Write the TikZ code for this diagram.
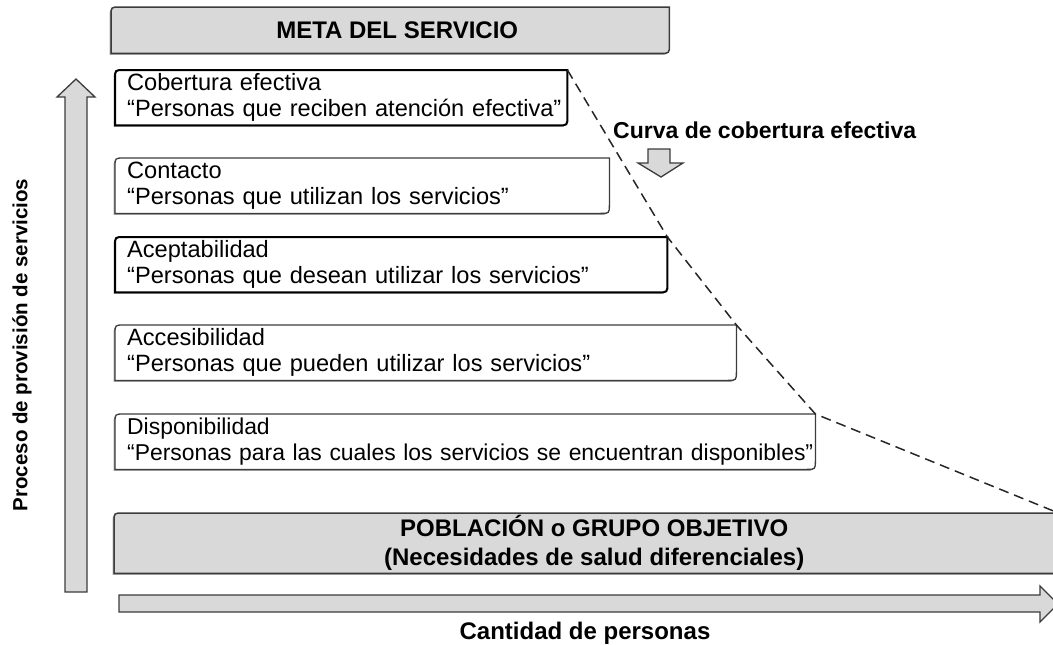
\documentclass[tikz,border=0pt]{standalone}
\usepackage{fontspec}
\setmainfont{Liberation Sans}
\usetikzlibrary{calc,backgrounds}
\definecolor{boxgray}{HTML}{D9D9D9}
\definecolor{edgegray}{HTML}{3C3C3C}
\newcommand{\roundpathoff}[3]{%
  \path[#2] ($(#1.south west)+#3$) -- ($(#1.north west)+(0,9)+#3$) .. controls ($(#1.north west)+#3$) .. ($(#1.north west)+(9,0)+#3$)
    -- ($(#1.north east)+#3$) -- ($(#1.south east)+(0,-9)+#3$) .. controls ($(#1.south east)+#3$) .. ($(#1.south east)+(-9,0)+#3$) -- cycle;}
\newcommand{\roundoutline}[2]{%
  \roundpathoff{#1}{boxshadow}{(-1.5,1.5)}%
  \roundpathoff{#1}{#2}{(0,0)}}
\tikzset{
  tbox/.style={anchor=north west, inner xsep=12pt, inner ysep=0pt, minimum height=55pt, align=left,
    font=\fontsize{23.6}{26}\selectfont},
  gbox/.style={anchor=north west, inner sep=0pt, align=center, font=\bfseries\fontsize{24}{29}\selectfont},
  boxshadow/.style={fill=black!35},
  thinedge/.style={fill=white, draw=edgegray, line width=1.3pt},
  thickedge/.style={fill=white, draw=black, line width=2pt},
  grayedge/.style={fill=boxgray, draw=edgegray, line width=1.5pt},
  bigarrow/.style={fill=boxgray, draw=edgegray, line width=1.3pt, line join=miter},
  dashline/.style={draw=black!85, line width=1.5pt, dash pattern=on 10pt off 6pt},
  boldlabel/.style={inner sep=0pt, font=\bfseries\fontsize{23}{26}\selectfont}
}
\begin{document}
\begin{tikzpicture}[x=1pt,y=-1pt]
\useasboundingbox (0,0) rectangle (1053,645);
% boxes
\node[gbox, minimum width=558pt, minimum height=46pt] (meta) at (111,7) {\hspace*{14pt}META DEL SERVICIO};
\node[tbox, text width=428pt] (cob) at (115,70) {\mbox{Cobertura efectiva}\\\mbox{“Personas que reciben atención efectiva”}};
\node[tbox, text width=470pt] (con) at (115,158) {\mbox{Contacto}\\\mbox{“Personas que utilizan los servicios”}};
\node[tbox, text width=528pt] (acep) at (115,237) {\mbox{Aceptabilidad}\\\mbox{“Personas que desean utilizar los servicios”}};
\node[tbox, text width=597pt] (acc) at (115,325) {\mbox{Accesibilidad}\\\mbox{“Personas que pueden utilizar los servicios”}};
\node[tbox, text width=676pt, font=\fontsize{22.9}{26}\selectfont] (disp) at (115,414) {\mbox{Disponibilidad}\\\mbox{“Personas para las cuales los servicios se encuentran disponibles”}};
\node[gbox, minimum width=944pt, minimum height=60pt] (pob) at (114,513) {\hspace*{16pt}POBLACIÓN o GRUPO OBJETIVO\\\hspace*{16pt}(Necesidades de salud diferenciales)};
\begin{scope}[on background layer]
  \roundoutline{meta}{grayedge}
  \roundoutline{pob}{grayedge}
  \roundoutline{cob}{thickedge}
  \roundoutline{con}{thinedge}
  \roundoutline{acep}{thickedge}
  \roundoutline{acc}{thinedge}
  \roundoutline{disp}{thinedge}
\end{scope}
% labels
\node[boldlabel, anchor=base west] (curva) at (613,138) {Curva de cobertura efectiva};
\node[boldlabel, font=\bfseries\fontsize{24}{26}\selectfont] (cant) at (585,633) {Cantidad de personas};
\node[boldlabel, rotate=90, font=\bfseries\fontsize{20.5}{24}\selectfont] (proc) at (22,345) {Proceso de provisión de servicios};
% big arrows
\draw[bigarrow] (65,592) -- (65,97) -- (57,97) -- (76,79) -- (95,97) -- (87,97) -- (87,592) -- cycle;
\draw[bigarrow] (119,595) -- (1040,595) -- (1040,586) -- (1058,604) -- (1040,622) -- (1040,612) -- (119,612) -- cycle;
\draw[bigarrow] (648,149) -- (670,149) -- (670,163) -- (683,163) -- (661,177) -- (638,163) -- (648,163) -- cycle;
% coverage curve
\draw[dashline] (cob.north east) -- (acep.north east) -- (acc.north east) -- (disp.north east) -- (pob.north east);
\end{tikzpicture}
\end{document}
